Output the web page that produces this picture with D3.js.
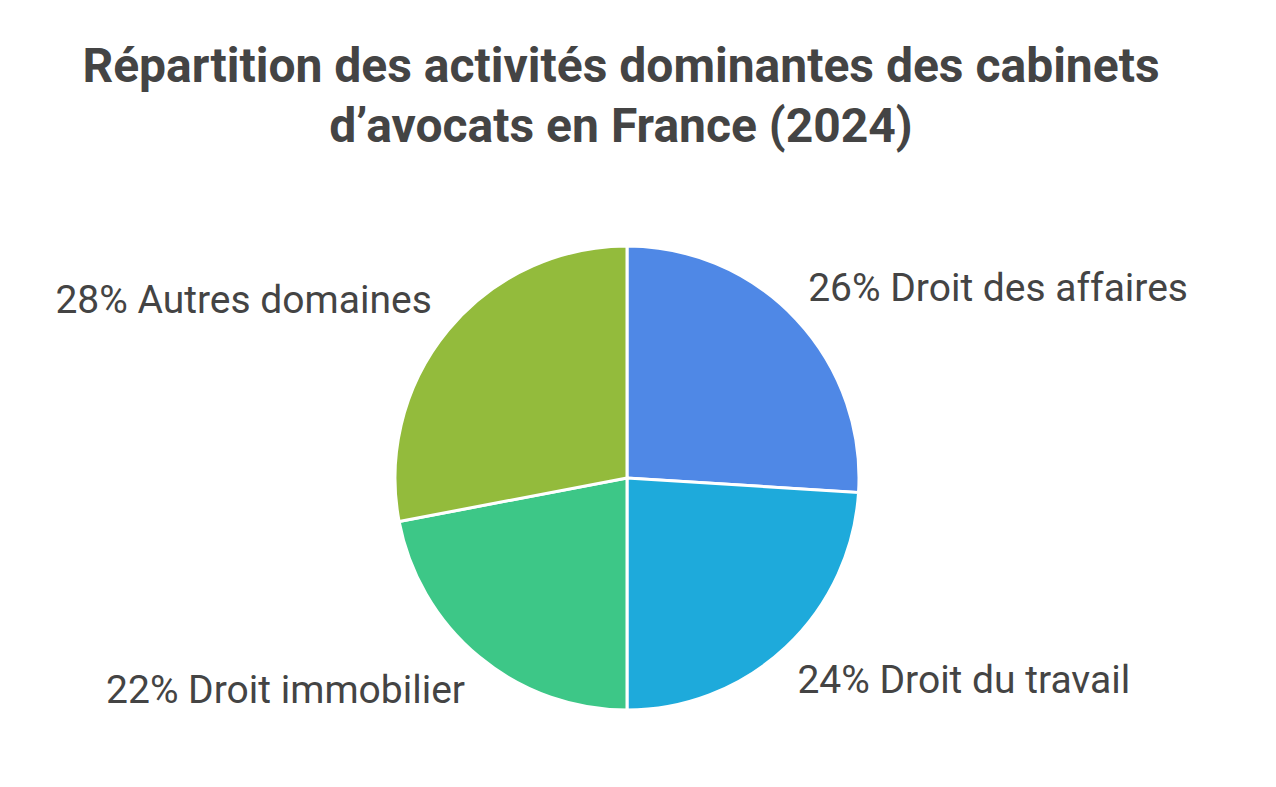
<!DOCTYPE html>
<html><head><meta charset="utf-8">
<script src="https://cdn.jsdelivr.net/npm/d3@7"></script>
<style>body{margin:0;background:#fff}</style></head>
<body><svg id="c" width="1276" height="787"></svg>
<script>
const categories=["Droit des affaires","Droit du travail","Droit immobilier","Autres domaines"];
const values=[26,24,22,28];
const colors=["#4F88E6","#1EAADB","#3DC787","#93BB3C"];
const titleLines=["Répartition des activités dominantes des cabinets","d’avocats en France (2024)"];

const svg=d3.select("#c");
const cx=627,cy=478,R=232;
svg.selectAll("text.t").data(titleLines).join("text").attr("class","t")
 .attr("x",621).attr("y",(d,i)=>82+i*60).attr("text-anchor","middle")
 .style("font-family","Roboto").style("font-weight","bold").style("font-size","48px").attr("fill","#444").text(d=>d);
const pie=d3.pie().sort(null).value(d=>d)(values);
const arc=d3.arc().innerRadius(0).outerRadius(R);
const g=svg.append("g").attr("transform",`translate(${cx},${cy})`);
g.selectAll("path").data(pie).join("path").attr("d",arc).attr("fill",(d,i)=>colors[i])
 .attr("stroke","#fff").attr("stroke-width",3);
const dys=[-9,8,7,-10], dxs=[-12,-11,7,9];
g.selectAll("text").data(pie).join("text").each(function(d,i){
  const a=(d.startAngle+d.endAngle)/2, r=265;
  const x=r*Math.sin(a), y=-r*Math.cos(a);
  d3.select(this).attr("x",x+dxs[i]).attr("y",y+dys[i]).attr("dy","0.35em")
   .attr("text-anchor",x>0?"start":"end");
}).style("font-family","Roboto").style("font-size","39px").attr("fill","#444")
 .text((d,i)=>values[i]+"% "+categories[i]);
</script></body></html>
